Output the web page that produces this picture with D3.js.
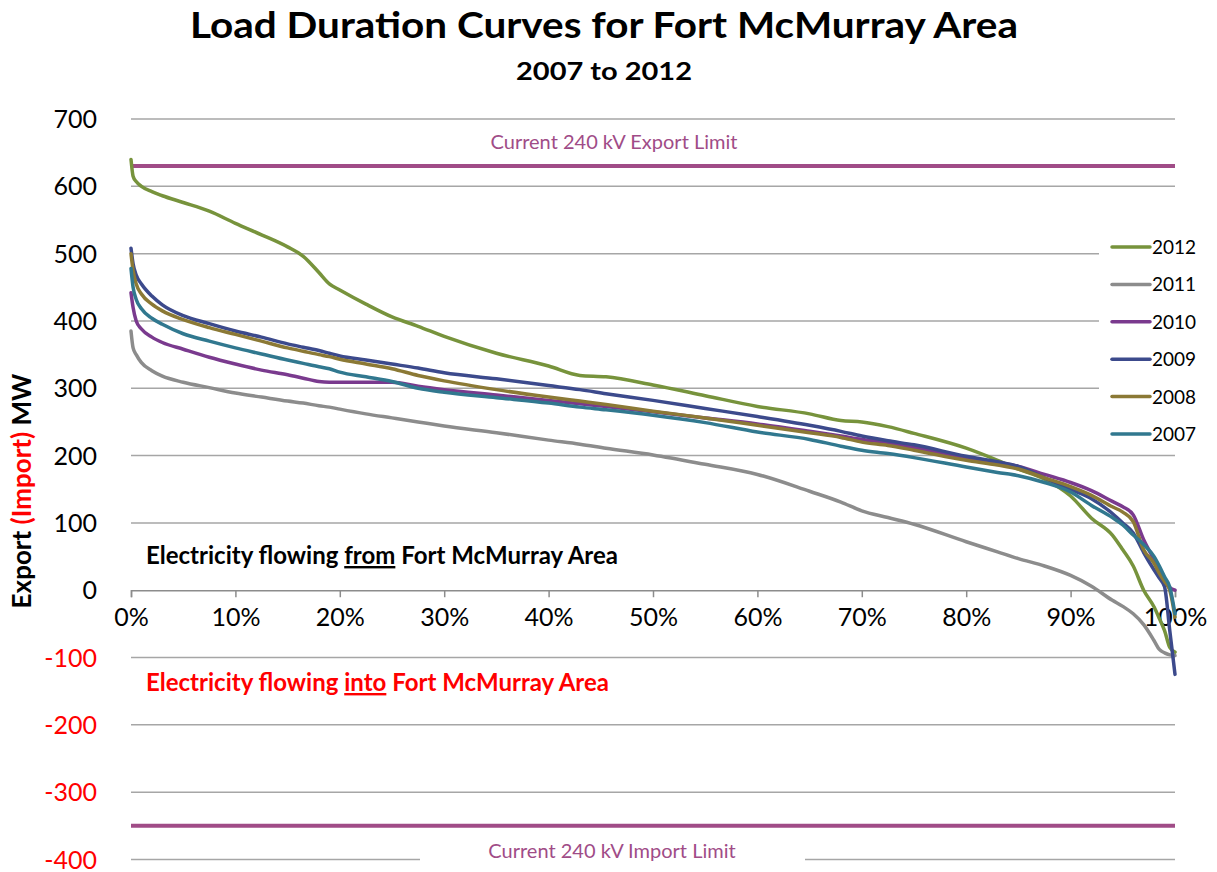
<!DOCTYPE html>
<html lang="en">
<head>
<meta charset="utf-8">
<title>Load Duration Curves for Fort McMurray Area</title>
<script src="https://d3js.org/d3.v7.min.js"></script>
<style>
  body { margin: 0; background: #fff; }
  text { font-family: Lato, "Open Sans", sans-serif; }
  .grid line { stroke: #a6a6a6; stroke-width: 1.5px; }
</style>
</head>
<body>
<svg width="1217" height="872"></svg>
<script>
// duration (% of hours) at which each value was read
var pct = [0, 0.2, 0.5, 1, 2, 3, 5, 7.5, 10, 12.5, 15, 16.5, 18, 19, 20, 22.5, 25, 27.5, 30, 35,
           40, 43, 45.5, 50, 55, 60, 65, 68, 70, 72.5, 75, 80, 83, 85, 87.5, 90, 92, 94, 95, 96,
           97, 98, 98.5, 99, 99.5, 100];

var mw2012 = [640, 615, 607, 600, 592, 586, 576, 563, 545, 528, 510, 496, 472, 455, 446, 425, 406, 392, 377, 352,
              333, 319, 317, 305, 289, 273, 262, 252, 250, 243, 233, 211, 193, 180, 165, 140, 107, 82, 60, 36,
              0, -25, -42, -60, -85, -92];
var mw2011 = [385, 360, 350, 338, 326, 318, 309, 301, 293, 287, 281, 278, 274, 272, 269, 262, 256, 250, 244, 234,
              223, 217, 211, 201, 187, 172, 147, 131, 118, 108, 98, 72, 57, 47, 36, 22, 6, -15, -24, -35,
              -51, -75, -88, -93, -96, -97];
var mw2010 = [442, 420, 400, 388, 376, 368, 358, 346, 336, 327, 320, 315, 310, 309, 309, 309, 309, 303, 298, 290,
              282, 277, 273, 265, 256, 247, 236, 229, 224, 219, 212, 197, 190, 184, 172, 160, 148, 132, 124, 112,
              75, 45, 28, 12, 4, 0];
var mw2009 = [508, 485, 468, 455, 437, 424, 408, 396, 385, 376, 366, 361, 356, 352, 348, 342, 336, 330, 323, 314,
              304, 298, 292, 282, 270, 258, 245, 236, 229, 222, 216, 199, 191, 184, 167, 150, 136, 114, 100, 85,
              56, 30, 18, 5, -60, -125];
var mw2008 = [500, 475, 455, 440, 425, 415, 402, 390, 380, 370, 360, 355, 350, 347, 343, 336, 329, 319, 311, 298,
              287, 281, 276, 266, 256, 245, 234, 227, 220, 215, 208, 193, 186, 180, 167, 154, 141, 124, 116, 102,
              60, 40, 25, 13, 0, -40];
var mw2007 = [478, 450, 432, 418, 404, 395, 381, 370, 360, 351, 342, 337, 332, 329, 324, 317, 310, 300, 294, 286,
              278, 272, 268, 260, 249, 235, 224, 214, 208, 203, 197, 183, 175, 170, 160, 146, 126, 108, 97, 82,
              68, 50, 36, 20, 5, -35];

var years = ["2012", "2011", "2010", "2009", "2008", "2007"];
var colors = ["#77933c", "#8c8c8c", "#7a3a8e", "#3c4a8c", "#8b7935", "#31788f"];
var series = [mw2012, mw2011, mw2010, mw2009, mw2008, mw2007];

var exportLimit = 630;
var importLimit = -350;
var yTicks = [-400, -300, -200, -100, 0, 100, 200, 300, 400, 500, 600, 700];
var xTicks = [0, 10, 20, 30, 40, 50, 60, 70, 80, 90, 100];

var svg = d3.select("svg");
var x = d3.scaleLinear().domain([0, 100]).range([131, 1175]);
var y = d3.scaleLinear().domain([-400, 700]).range([859.5, 119]);
var limitColor = "#a04c87";

// titles
svg.append("text").attr("x", 604).attr("y", 38).attr("text-anchor", "middle")
  .attr("font-size", 36).attr("font-weight", "bold")
  .attr("textLength", 828).attr("lengthAdjust", "spacingAndGlyphs")
  .text("Load Duration Curves for Fort McMurray Area");
svg.append("text").attr("x", 604).attr("y", 80).attr("text-anchor", "middle")
  .attr("font-size", 25).attr("font-weight", "bold")
  .attr("textLength", 176).attr("lengthAdjust", "spacingAndGlyphs")
  .text("2007 to 2012");

// gridlines
svg.append("g").attr("class", "grid")
  .selectAll("line").data(yTicks.filter(function (d) { return d !== 0; }))
  .enter().append("line")
  .attr("x1", x(0)).attr("x2", x(100))
  .attr("y1", function (d) { return y(d); }).attr("y2", function (d) { return y(d); });

// y tick labels
svg.append("g").selectAll("text").data(yTicks).enter().append("text")
  .attr("x", 97).attr("y", function (d) { return y(d) + 9; })
  .attr("text-anchor", "end").attr("font-size", 25)
  .attr("fill", function (d) { return d < 0 ? "#ff0000" : "#000"; })
  .text(function (d) { return d; });

// x axis at zero
var xAxis = svg.append("g").attr("transform", "translate(0," + y(0) + ")")
  .call(d3.axisBottom(x).tickValues(xTicks).tickSize(7).tickPadding(11)
    .tickFormat(function (d) { return d + "%"; }));
xAxis.select(".domain").attr("stroke", "#8c8c8c").attr("stroke-width", 1.5);
xAxis.selectAll(".tick line").attr("stroke", "#8c8c8c").attr("stroke-width", 1.5);
xAxis.selectAll(".tick text").attr("font-size", 25).attr("fill", "#000")
  .attr("font-family", "Lato, sans-serif");

// y axis title
var yt = svg.append("text").attr("transform", "translate(31,491) rotate(-90)")
  .attr("text-anchor", "middle").attr("font-size", 26).attr("font-weight", "bold");
yt.append("tspan").text("Export ");
yt.append("tspan").attr("fill", "#ff0000").text("(Import)");
yt.append("tspan").text(" MW");

// limit lines
svg.append("g").selectAll("line").data([exportLimit, importLimit]).enter().append("line")
  .attr("x1", x(0)).attr("x2", x(100))
  .attr("y1", function (d) { return y(d); }).attr("y2", function (d) { return y(d); })
  .attr("stroke", limitColor).attr("stroke-width", 4);

svg.append("text").attr("x", 614).attr("y", 149).attr("text-anchor", "middle")
  .attr("font-size", 20).attr("fill", limitColor).text("Current 240 kV Export Limit");
svg.append("rect").attr("x", 420).attr("y", 838).attr("width", 385).attr("height", 30).attr("fill", "#fff");
svg.append("text").attr("x", 612).attr("y", 858).attr("text-anchor", "middle")
  .attr("font-size", 20).attr("fill", limitColor).text("Current 240 kV Import Limit");

// flow annotations
var a1 = svg.append("text").attr("x", 146).attr("y", 564).attr("font-size", 24).attr("font-weight", "bold");
a1.append("tspan").text("Electricity flowing ");
a1.append("tspan").attr("text-decoration", "underline").text("from");
a1.append("tspan").text(" Fort McMurray Area");
var a2 = svg.append("text").attr("x", 146).attr("y", 691).attr("font-size", 24).attr("font-weight", "bold")
  .attr("fill", "#ff0000");
a2.append("tspan").text("Electricity flowing ");
a2.append("tspan").attr("text-decoration", "underline").text("into");
a2.append("tspan").text(" Fort McMurray Area");

// legend background hides the gridlines behind it
svg.append("rect").attr("x", 1099).attr("y", 228).attr("width", 118).attr("height", 222).attr("fill", "#fff");

// curves
var line = d3.line()
  .x(function (d) { return x(d[0]); })
  .y(function (d) { return y(d[1]); })
  .curve(d3.curveMonotoneX);

svg.append("g").selectAll("path").data(series).enter().append("path")
  .attr("d", function (s) { return line(s.map(function (v, i) { return [pct[i], v]; })); })
  .attr("fill", "none")
  .attr("stroke", function (s, i) { return colors[i]; })
  .attr("stroke-width", 3.5)
  .attr("stroke-linejoin", "round").attr("stroke-linecap", "round");

// legend
var lg = svg.append("g").selectAll("g").data(years).enter().append("g")
  .attr("transform", function (d, i) { return "translate(1112," + (247 + i * 37.4) + ")"; });
lg.append("line").attr("x1", 0).attr("x2", 38)
  .attr("stroke", function (d, i) { return colors[i]; }).attr("stroke-width", 3.5)
  .attr("stroke-linecap", "round");
lg.append("text").attr("x", 40).attr("y", 7).attr("font-size", 19).text(function (d) { return d; });
</script>
</body>
</html>
